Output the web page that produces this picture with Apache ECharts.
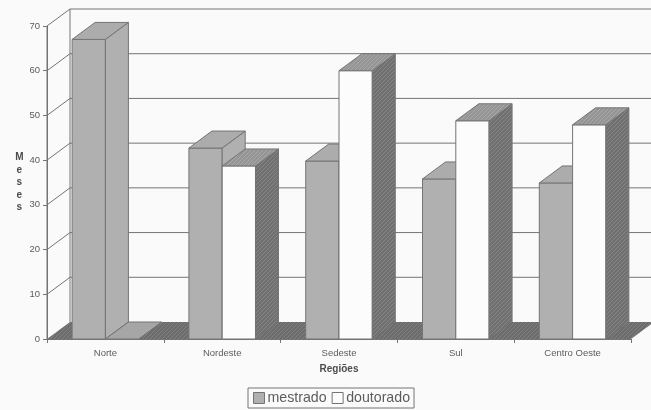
<!DOCTYPE html>
<html><head><meta charset="utf-8">
<style>html,body{margin:0;padding:0;background:#fafafa}#c{width:651px;height:410px}</style>
<script src="https://cdn.jsdelivr.net/npm/echarts@6/dist/echarts.min.js"></script>
</head><body><div id="c"></div>
<script>
const categories = ['Norte','Nordeste','Sedeste','Sul','Centro Oeste'];
const mestrado = [67, 42.7, 39.8, 35.8, 34.9];
const doutorado = [0, 38.7, 60, 48.8, 47.9];
const yTicks = [0,10,20,30,40,50,60,70];

const DX = 23, DY = -17, BAR = 0.285;
const LINE = '#747474', TEXT = '#5c5c5c';
const MEST = '#b0b0b0', MEST_TOP = '#acacac', DOUT = '#fcfcfc';

function hatch(a, b){
  const c = document.createElement('canvas'); c.width = 4; c.height = 4;
  const g = c.getContext('2d');
  g.fillStyle = a; g.fillRect(0,0,4,4);
  g.fillStyle = b;
  [[0,0],[2,2],[1,3],[3,1]].forEach(p => g.fillRect(p[0],p[1],1,1));
  return {image:c, repeat:'repeat'};
}
const DARK = hatch('#707070','#868686');
const TOPD = hatch('#959595','#a8a8a8');
const FLOOR = hatch('#6c6c6c','#808080');

function poly(pts, fill, stroke){
  return {type:'polygon', shape:{points:pts}, style:{fill:fill, stroke:stroke||LINE, lineWidth:1}};
}
function barRender(side, cFront, cTop, cSide){
  return function(params, api){
    const v = api.value(1);
    const base = api.coord([api.value(0), 0]);
    const top = api.coord([api.value(0), v]);
    const w = api.size([1,0])[0] * BAR;
    const x0 = side === 0 ? base[0]-w : base[0];
    const x1 = x0 + w, y0 = base[1], y1 = top[1];
    const kids = [];
    if (v > 0) {
      kids.push(poly([[x0,y0],[x1,y0],[x1,y1],[x0,y1]], cFront));
      kids.push(poly([[x1,y0],[x1+DX,y0+DY],[x1+DX,y1+DY],[x1,y1]], cSide));
    }
    kids.push(poly([[x0,y1],[x1,y1],[x1+DX,y1+DY],[x0+DX,y1+DY]], cTop));
    return {type:'group', children:kids};
  };
}
function wallRender(params, api){
  const cs = params.coordSys;
  const p = api.coord([0, api.value(0)]);
  const y = p[1], l = cs.x, r = cs.x + cs.width;
  const kids = [];
  const ln = (a,b,c,d) => ({type:'line', shape:{x1:a,y1:b,x2:c,y2:d}, style:{stroke:LINE, lineWidth:1}});
  if (params.dataIndex === 0) {
    kids.push(poly([[l,y],[l+DX,y+DY],[r+DX,y+DY],[r,y]], FLOOR, 'none'));
    const t = cs.y;
    kids.push(ln(l+DX,t+DY,l+DX,y+DY));
    kids.push(ln(l,t,l,y));
  } else {
    kids.push(ln(l,y,l+DX,y+DY));
    kids.push(ln(l+DX,y+DY,r+DX,y+DY));
  }
  return {type:'group', children:kids};
}

const chart = echarts.init(document.getElementById('c'), null, {renderer:'canvas'});
chart.setOption({
  animation:false,
  backgroundColor:'#fafafa',
  textStyle:{fontFamily:'Liberation Sans'},
  grid:{left:47, right:20, top:26, bottom:71},
  xAxis:{type:'category', data:categories, name:'Regiões', nameLocation:'middle', nameGap:25,
    nameTextStyle:{fontWeight:'bold', fontSize:10, color:'#4c4c4c'},
    axisLine:{lineStyle:{color:LINE}}, axisTick:{show:true, length:4, alignWithLabel:false, lineStyle:{color:LINE}},
    axisLabel:{fontSize:9.5, color:TEXT, margin:9}, splitLine:{show:false}},
  yAxis:{type:'value', min:0, max:70, interval:10, name:'M\ne\ns\ne\ns', nameLocation:'middle', nameGap:27, nameRotate:0,
    nameTextStyle:{fontWeight:'bold', fontSize:10, color:'#4c4c4c', lineHeight:12.6, align:'center', verticalAlign:'middle'},
    axisLine:{show:true, lineStyle:{color:LINE}}, axisTick:{show:true, length:4, lineStyle:{color:LINE}},
    axisLabel:{fontSize:9.5, color:TEXT, margin:7}, splitLine:{show:false}},
  legend:{left:248, top:388, padding:[3,4,3,5], itemGap:5, itemWidth:11, itemHeight:11,
    borderColor:LINE, borderWidth:1, backgroundColor:'#fafafa', selectedMode:false,
    textStyle:{fontSize:14.2, color:'#5c5c5c', padding:[0,0,0,-2]},
    data:[
      {name:'mestrado', icon:'rect', itemStyle:{color:MEST, borderColor:LINE, borderWidth:1}},
      {name:'doutorado', icon:'rect', itemStyle:{color:DOUT, borderColor:LINE, borderWidth:1}}
    ]},
  series:[
    {type:'custom', name:'walls', silent:true, z:1, clip:false, encode:{y:0}, data:yTicks.map(v=>[v]), renderItem:wallRender},
    {type:'custom', name:'mestrado', z:2, clip:false, itemStyle:{color:MEST}, encode:{x:0,y:1},
      data:categories.map((c,i)=>[i,mestrado[i]]), renderItem:barRender(0,MEST,MEST_TOP,MEST)},
    {type:'custom', name:'doutorado', z:3, clip:false, itemStyle:{color:DOUT}, encode:{x:0,y:1},
      data:categories.map((c,i)=>[i,doutorado[i]]),
      renderItem:function(p,api){ return barRender(1,DOUT, api.value(1)>0?TOPD:'#a6a6a6', DARK)(p,api); }}
  ]
});
</script></body></html>
